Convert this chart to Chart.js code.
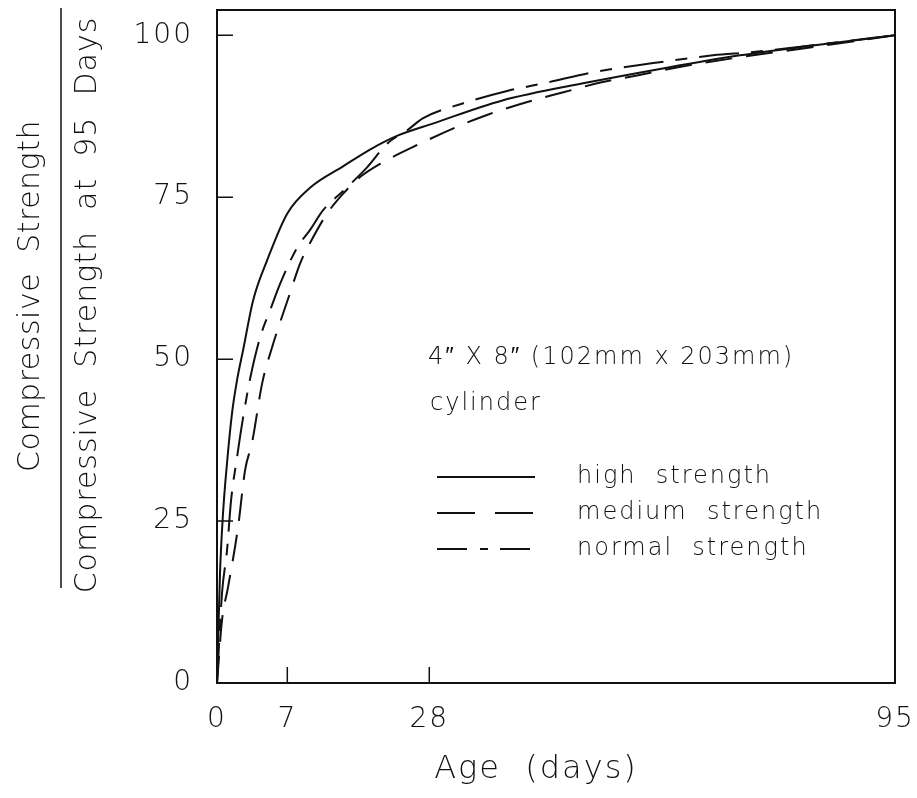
<!DOCTYPE html>
<html>
<head>
<meta charset="utf-8">
<script src="https://cdn.jsdelivr.net/npm/chart.js@4.4.1/dist/chart.umd.min.js"></script>
<style>
  html, body { margin: 0; padding: 0; background: #fff; }
  #wrap { width: 917px; height: 798px; }
</style>
</head>
<body>
<div id="wrap"><canvas id="strength-chart" width="917" height="798"></canvas></div>
<script>
/* ===== DATA ===== */
const xTicks = [0, 7, 28, 95];
const yTicks = [0, 25, 50, 75, 100];

const highDays   = [0, 0.1, 0.3, 0.6, 1.0, 1.5, 2.0, 2.6, 3.6, 5.0, 7.0, 10.4, 15.3, 19.3, 23.3, 28.6, 38.4, 50.7, 62.2, 72.7, 82.3, 95];
const highValues = [0, 5.6, 17, 26.2, 34, 41.7, 46.8, 51.4, 59.1, 65.3, 72.5, 76.5, 79.8, 82.4, 84.5, 86.4, 89.9, 92.7, 95.0, 96.9, 98.3, 100];

const medDays    = [0, 0.5, 1.1, 2.1, 2.8, 3.5, 4.5, 5.5, 7.4, 8.9, 10.4, 12.9, 15.3, 18.0, 20.8, 26.7, 32.5, 36.3, 42.1, 47.3, 52.6, 57.9, 64, 72, 82, 95];
const medValues  = [0, 9.7, 14.8, 24.1, 32.9, 37.2, 46.3, 51.9, 60.2, 64.8, 68.0, 72.5, 75.6, 78.3, 80.2, 83.3, 86.1, 87.7, 89.7, 91.2, 92.7, 93.8, 95.1, 96.5, 98.0, 100];

const normDays   = [0, 0.5, 1.0, 1.4, 2.0, 2.6, 3.3, 4.3, 5.3, 6.3, 8.5, 10.4, 12.3, 15.3, 18.8, 21.8, 24.7, 27.1, 32.9, 39.2, 45.0, 51.6, 60.2, 68.8, 74.6, 85, 95];
const normValues = [0, 13.9, 20.5, 28.2, 34.9, 41, 47, 53.4, 57.6, 61.7, 67.3, 70.0, 73.0, 76.0, 79.6, 83.3, 85.3, 87.2, 89.5, 91.4, 92.7, 94.3, 95.7, 96.9, 97.4, 98.7, 100];

const seriesLabels = ['high strength', 'medium strength', 'normal strength'];

/* ===== AGE AXIS (the original stretches the first week) ===== */
const ageBreaks    = [0, 7, 28, 95];
const ageFractions = [0, 0.1037, 0.3131, 1];

class AgeScale extends Chart.LinearScale {
  getPixelForValue(value) {
    let i = 1;
    while (i < ageBreaks.length - 1 && value > ageBreaks[i]) i++;
    const t = (value - ageBreaks[i - 1]) / (ageBreaks[i] - ageBreaks[i - 1]);
    return this.getPixelForDecimal(ageFractions[i - 1] + t * (ageFractions[i] - ageFractions[i - 1]));
  }
  getValueForPixel(pixel) {
    const d = this.getDecimalForPixel(pixel);
    let i = 1;
    while (i < ageFractions.length - 1 && d > ageFractions[i]) i++;
    const t = (d - ageFractions[i - 1]) / (ageFractions[i] - ageFractions[i - 1]);
    return ageBreaks[i - 1] + t * (ageBreaks[i] - ageBreaks[i - 1]);
  }
}
AgeScale.id = 'age';
AgeScale.defaults = Chart.LinearScale.defaults;
Chart.register(AgeScale);

const FONT = "'DejaVu Sans', sans-serif";
const INK  = '#111';

function toPoints(xs, ys) { return xs.map((x, i) => ({ x: x, y: ys[i] })); }

const legendDash = [[], [38, 20], [30, 13, 8, 12]];

/* ===== DECORATION: frame, inward ticks, titles, note, legend ===== */
const paperPlugin = {
  id: 'paper',
  beforeDraw(chart) {
    chart.ctx.letterSpacing = '2px';
  },
  afterDraw(chart) {
    const ctx = chart.ctx;
    const a = chart.chartArea;
    const xs = chart.scales.x, ys = chart.scales.y;
    ctx.save();
    ctx.strokeStyle = INK;
    ctx.fillStyle = INK;
    ctx.lineWidth = 2;
    ctx.setLineDash([]);
    ctx.strokeRect(a.left, a.top, a.right - a.left, a.bottom - a.top);

    ctx.lineWidth = 1.5;
    ctx.beginPath();
    yTicks.slice(1).forEach(v => {
      const py = ys.getPixelForValue(v);
      ctx.moveTo(a.left, py); ctx.lineTo(a.left + 16, py);
    });
    xTicks.slice(1, -1).forEach(v => {
      const px = xs.getPixelForValue(v);
      ctx.moveTo(px, a.bottom); ctx.lineTo(px, a.bottom - 16);
    });
    ctx.stroke();

    ctx.textAlign = 'center';
    ctx.textBaseline = 'middle';

    // x title
    ctx.font = '200 32px ' + FONT;
    ctx.letterSpacing = '2px';
    ctx.fillText('Age  (days)', 536, 770);

    // y title as a fraction
    ctx.font = '200 30px ' + FONT;
    ctx.save();
    ctx.letterSpacing = '0.5px';
    ctx.translate(31, 296);
    ctx.rotate(-Math.PI / 2);
    ctx.fillText('Compressive  Strength', 0, 0);
    ctx.restore();
    ctx.save();
    ctx.letterSpacing = '1px';
    ctx.translate(88, 305);
    ctx.rotate(-Math.PI / 2);
    ctx.fillText('Compressive  Strength  at  95  Days', 0, 0);
    ctx.restore();
    ctx.lineWidth = 1.5;
    ctx.beginPath();
    ctx.moveTo(61, 8); ctx.lineTo(61, 588);
    ctx.stroke();

    // specimen note
    ctx.font = '200 24px ' + FONT;
    ctx.textAlign = 'left';
    ctx.letterSpacing = '2px';
    ctx.fillText('4\u2033 X 8\u2033 (102mm x 203mm)', 428, 358);
    ctx.fillText('cylinder', 430, 404);

    // legend
    const rowY = [477, 513, 549];
    chart.data.datasets.forEach((ds, i) => {
      ctx.lineWidth = 2;
      ctx.setLineDash(legendDash[i]);
      ctx.beginPath();
      ctx.moveTo(437, rowY[i]); ctx.lineTo(535, rowY[i]);
      ctx.stroke();
      ctx.setLineDash([]);
      ctx.fillText(ds.label.replace(' ', '  '), 577, rowY[i]);
    });
    ctx.restore();
  }
};

const ctx = document.getElementById('strength-chart');
const strengthChart = new Chart(ctx, {
  type: 'line',
  data: {
    datasets: [
      { label: seriesLabels[0], data: toPoints(highDays, highValues), borderDash: [] },
      { label: seriesLabels[1], data: toPoints(medDays, medValues), borderDash: [27, 14] },
      { label: seriesLabels[2], data: toPoints(normDays, normValues), borderDash: [40, 12, 12, 12] }
    ]
  },
  options: {
    responsive: false,
    animation: false,
    devicePixelRatio: 1,
    layout: { padding: { top: 10, right: 22, left: 0, bottom: 0 } },
    elements: {
      line: { borderColor: INK, borderWidth: 2, cubicInterpolationMode: 'monotone', fill: false },
      point: { radius: 0, hoverRadius: 0 }
    },
    plugins: { legend: { display: false }, tooltip: { enabled: false } },
    scales: {
      x: {
        type: 'age', min: 0, max: 95,
        afterBuildTicks: s => { s.ticks = xTicks.map(v => ({ value: v })); },
        afterFit: s => { s.height = 115; s.paddingLeft = 0; s.paddingRight = 0; },
        grid: { display: false, drawTicks: false },
        border: { display: false },
        ticks: { color: INK, autoSkip: false, maxRotation: 0, padding: 20, font: { family: FONT, size: 28, weight: '200' } }
      },
      y: {
        type: 'linear', min: 0, max: 103.9,
        afterBuildTicks: s => { s.ticks = yTicks.map(v => ({ value: v })); },
        afterFit: s => { s.width = 217; s.paddingTop = 0; s.paddingBottom = 0; },
        grid: { display: false, drawTicks: false },
        border: { display: false },
        ticks: { color: INK, padding: 24, font: { family: FONT, size: 28, weight: '200' } }
      }
    }
  },
  plugins: [paperPlugin]
});
</script>
</body>
</html>
